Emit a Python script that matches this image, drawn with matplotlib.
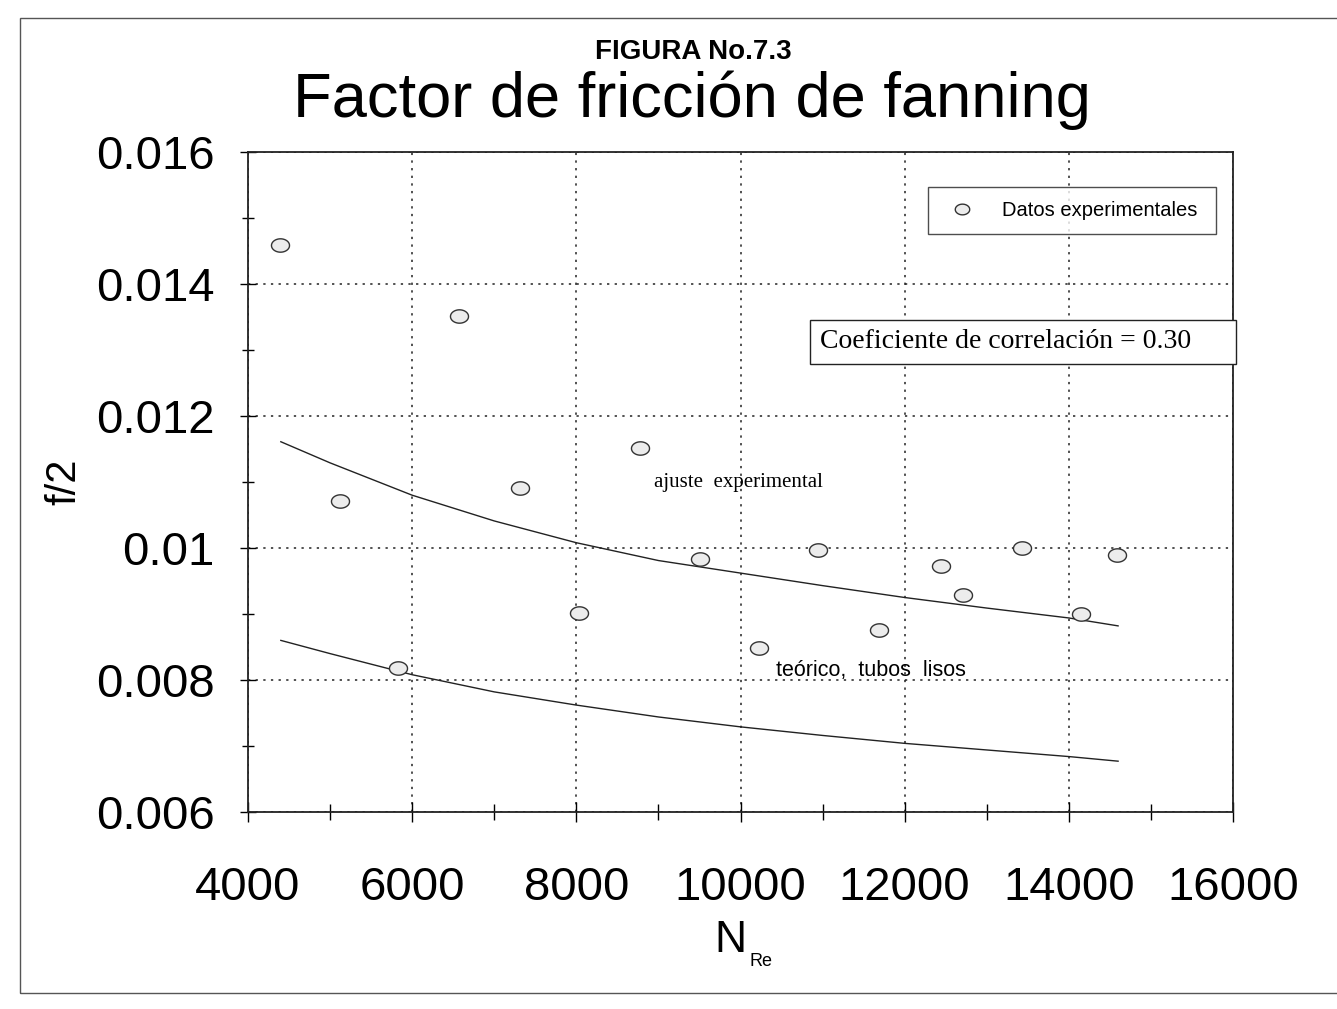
import numpy as np
import matplotlib
matplotlib.use("Agg")
import matplotlib.pyplot as plt
from matplotlib.ticker import MultipleLocator, FuncFormatter
from matplotlib.patches import Rectangle

# ---- data ----
re_exp = [4390, 5120, 5830, 6570, 7310, 8030, 8770, 9510, 10230, 10950,
          11690, 12440, 12710, 13430, 14150, 14590]
f2_exp = [0.01459, 0.01071, 0.00818, 0.01351, 0.01091, 0.00901, 0.01151,
          0.00983, 0.00848, 0.00997, 0.00876, 0.00972, 0.00929, 0.01000,
          0.00900, 0.00989]

re_fit = [4400, 5000, 6000, 7000, 8000, 9000, 10000, 11000, 12000, 13000,
          14000, 14600]
f2_fit = [0.01161, 0.01129, 0.01080, 0.01041, 0.01008, 0.00981, 0.00962,
          0.00943, 0.00925, 0.00909, 0.00894, 0.00882]

re_teo = [4400, 5000, 6000, 7000, 8000, 9000, 10000, 11000, 12000, 13000,
          14000, 14600]
f2_teo = [0.00860, 0.00840, 0.00808, 0.00782, 0.00762, 0.00744, 0.00729,
          0.00716, 0.00704, 0.00694, 0.00684, 0.00677]

x_ticks = [4000, 6000, 8000, 10000, 12000, 14000, 16000]
y_ticks = [0.006, 0.008, 0.010, 0.012, 0.014, 0.016]

plt.rcParams['font.family'] = ['Liberation Sans', 'DejaVu Sans']

W, H = 1337, 1009
fig = plt.figure(figsize=(W / 100, H / 100), dpi=100)
fig.patch.set_facecolor('white')

L, R, B, T = 248, 1233, 812, 152
ax = fig.add_axes([L / W, 1 - B / H, (R - L) / W, (B - T) / H])

# page border of the scan
fig.add_artist(Rectangle((20 / W, 16 / H), 1.2, 1 - 34 / H, transform=fig.transFigure,
                         fill=False, edgecolor='#555555', lw=1.0))

# ellipse marker
t = np.linspace(0, 2 * np.pi, 60)
ell = list(zip(1.35 * np.cos(t), np.sin(t)))

ax.plot(re_fit, f2_fit, color='#222222', lw=1.0, zorder=3)
ax.plot(re_teo, f2_teo, color='#222222', lw=1.0, zorder=3)
ax.plot(re_exp, f2_exp, linestyle='none', marker=ell, markersize=13,
        markerfacecolor='#ececec', markeredgecolor='#333333', markeredgewidth=1.0,
        zorder=4, label='Datos experimentales')

ax.set_xlim(4000, 16000)
ax.set_ylim(0.006, 0.016)
ax.set_xticks(x_ticks)
ax.set_yticks(y_ticks)
ax.xaxis.set_minor_locator(MultipleLocator(1000))
ax.yaxis.set_minor_locator(MultipleLocator(0.001))
ax.yaxis.set_major_formatter(FuncFormatter(lambda v, p: '{:g}'.format(round(v, 4))))

ax.tick_params(axis='x', which='major', labelsize=34, direction='inout', length=14,
               width=1.0, pad=32)
ax.tick_params(axis='x', which='minor', direction='inout', length=12, width=1.0)
ax.tick_params(axis='y', which='major', labelsize=34, direction='inout', length=12,
               width=1.0, pad=18)
ax.tick_params(axis='y', which='minor', direction='inout', length=8, width=1.0)

ax.grid(True, which='major', linestyle=(0, (1.5, 3.5)), color='#222222', lw=1.1)
for s in ax.spines.values():
    s.set_linewidth(1.3)
    s.set_color('#222222')

ax.set_ylabel('f/2', fontsize=30, labelpad=8)

# x label: large N with small subscript Re
fig.text(730 / W, 1 - 941 / H, 'N', fontsize=32, ha='center', va='center')
fig.text(761 / W, 1 - 961 / H, 'Re', fontsize=13, ha='center', va='center')

leg = ax.legend(loc='center', bbox_to_anchor=(0.690, 0.870, 0.293, 0.082),
                mode='expand', fontsize=14.5, frameon=True, fancybox=False,
                edgecolor='#222222', handletextpad=1.0, borderpad=0.7,
                borderaxespad=0, markerscale=0.8)
leg.get_frame().set_linewidth(1.0)

# correlation box
ax.add_patch(Rectangle(((810 - L) / (R - L), (B - 364) / (B - T)),
                       (1236 - 810) / (R - L), 44 / (B - T),
                       transform=ax.transAxes, fill=True, facecolor='white',
                       edgecolor='#222222', lw=1.0, zorder=5, clip_on=False))
ax.text((820 - L) / (R - L), (B - 341) / (B - T), 'Coeficiente de correlación = 0.30',
        transform=ax.transAxes, fontsize=20, family='Liberation Serif',
        ha='left', va='center', zorder=6)

ax.text(8950, 0.0110, 'ajuste  experimental', fontsize=15, family='Liberation Serif',
        ha='left', va='center', zorder=6)
ax.text(10430, 0.00815, 'teórico,  tubos  lisos', fontsize=15.5,
        ha='left', va='center', zorder=6)

fig.text(693 / W, 1 - 52 / H, 'FIGURA No.7.3', fontsize=20, fontweight='bold',
         ha='center', va='center')
fig.text(692 / W, 1 - 100 / H, 'Factor de fricción de fanning', fontsize=45.5,
         ha='center', va='center')

fig.savefig('out.png', dpi=100)
